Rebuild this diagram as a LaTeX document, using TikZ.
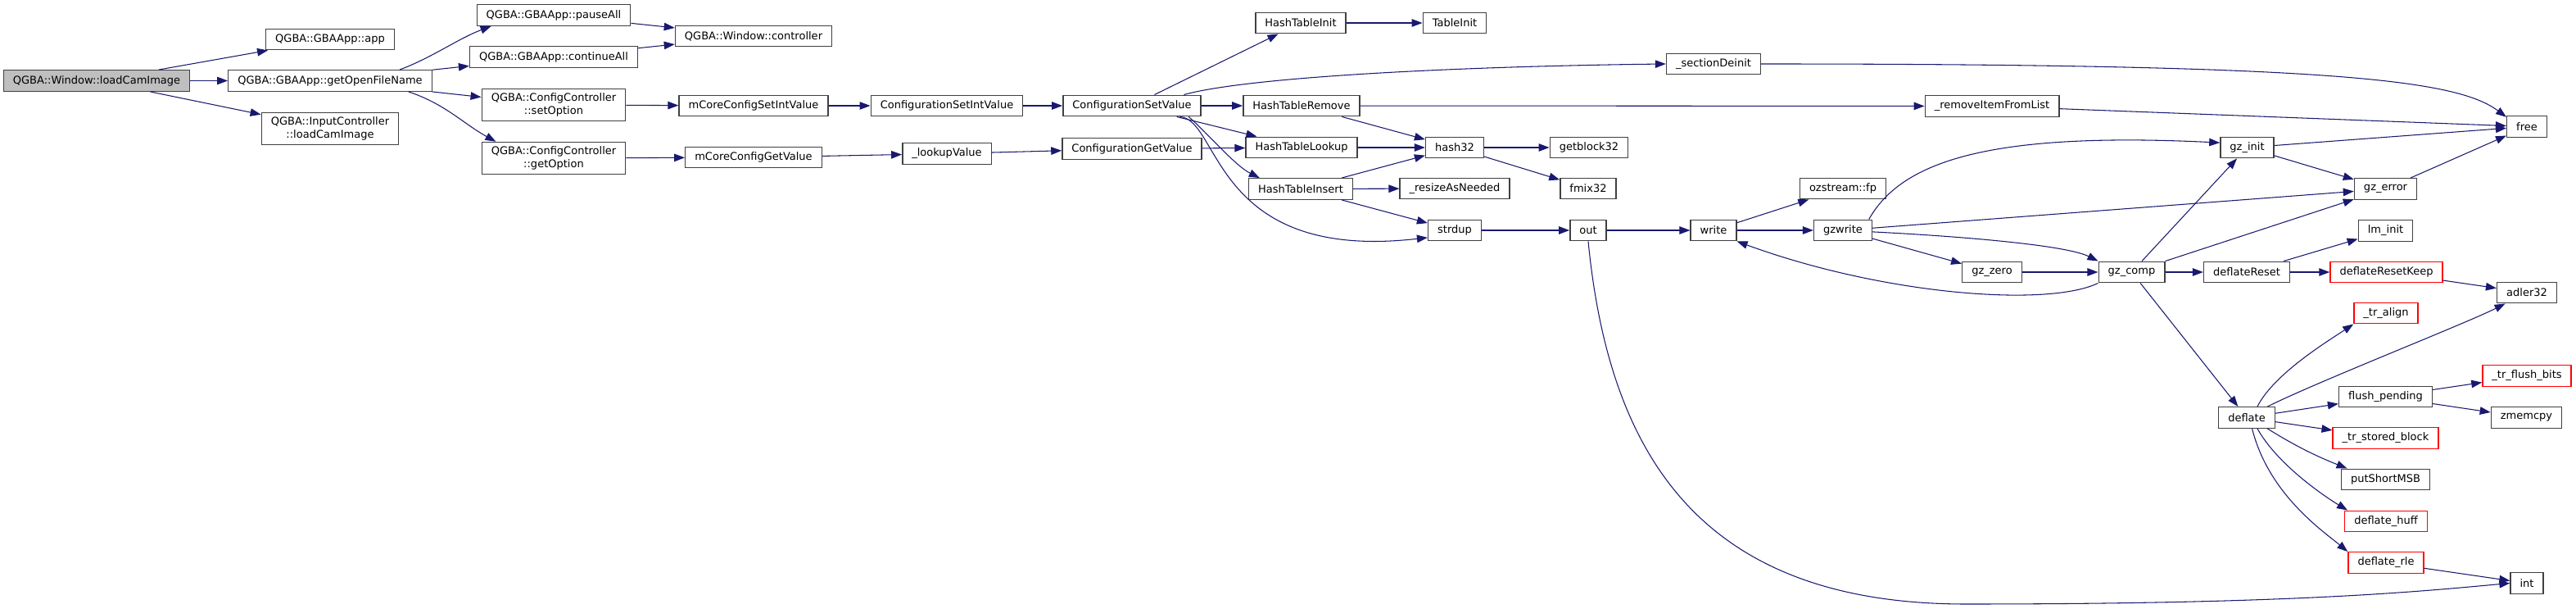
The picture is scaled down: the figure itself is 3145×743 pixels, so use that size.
\documentclass[tikz,border=0pt]{standalone}
\usepackage{fontspec}
\setmainfont{DejaVu Sans}
\usetikzlibrary{arrows.meta}

\definecolor{midnightblue}{RGB}{25,25,112}
\newcommand{\callfont}{\fontsize{3.7pt}{4.4pt}\selectfont}

\tikzset{
  fn/.style={draw=black!75, line width=0.4pt, fill=white, inner xsep=0.115cm,
    inner ysep=0.055cm, minimum height=0.255cm, align=center, font=\callfont},
  fnroot/.style={fn, fill=black!25},
  fntrunc/.style={fn, draw=red},
  call/.style={draw=midnightblue, line width=0.3pt,
    -{Triangle[length=1.3mm, width=0.95mm]}},
}

\begin{document}
\begin{tikzpicture}[x=0.01cm, y=-0.01cm]
    \useasboundingbox (0,0) rectangle (3145,743);

    % functions
    \node[fnroot] (loadcam) at (118,98.5) {QGBA::Window::loadCamImage};
    \node[fn] (app) at (403,48) {QGBA::GBAApp::app};
    \node[fn] (getopen) at (403,98.5) {QGBA::GBAApp::getOpenFileName};
    \node[fn] (inputcam) at (403,157) {QGBA::InputController\\::loadCamImage};
    \node[fn] (pauseall) at (676,18.5) {QGBA::GBAApp::pauseAll};
    \node[fn] (continueall) at (676,69.5) {QGBA::GBAApp::continueAll};
    \node[fn] (setoption) at (676,128) {QGBA::ConfigController\\::setOption};
    \node[fn] (getoption) at (676,193) {QGBA::ConfigController\\::getOption};
    \node[fn] (controller) at (920,44) {QGBA::Window::controller};
    \node[fn] (setint) at (920,129) {mCoreConfigSetIntValue};
    \node[fn] (getvalue) at (920,192) {mCoreConfigGetValue};
    \node[fn] (cfgsetint) at (1156,129) {ConfigurationSetIntValue};
    \node[fn] (lookupvalue) at (1156,187.5) {\_lookupValue};
    \node[fn] (cfgset) at (1382,129) {ConfigurationSetValue};
    \node[fn] (cfgget) at (1382,181.5) {ConfigurationGetValue};
    \node[fn] (htinit) at (1588,28) {HashTableInit};
    \node[fn] (htremove) at (1589,129) {HashTableRemove};
    \node[fn] (htlookup) at (1589,180) {HashTableLookup};
    \node[fn] (htinsert) at (1588,230.5) {HashTableInsert};
    \node[fn] (tableinit) at (1776,28) {TableInit};
    \node[fn] (hash32) at (1776,180) {hash32};
    \node[fn] (resize) at (1776,230) {\_resizeAsNeeded};
    \node[fn] (strdup) at (1776,281) {strdup};
    \node[fn] (getblock) at (1940,180) {getblock32};
    \node[fn] (fmix) at (1939,230) {fmix32};
    \node[fn] (out) at (1939,281) {out};
    \node[fn] (sectiondeinit) at (2092,78) {\_sectionDeinit};
    \node[fn] (write) at (2092,281) {write};
    \node[fn] (ozfp) at (2250,230) {ozstream::fp};
    \node[fn] (gzwrite) at (2250,281) {gzwrite};
    \node[fn] (removeitem) at (2432,129.5) {\_removeItemFromList};
    \node[fn] (gzzero) at (2432,332) {gz\_zero};
    \node[fn] (gzcomp) at (2602.5,332) {gz\_comp};
    \node[fn] (gzinit) at (2743.5,180) {gz\_init};
    \node[fn] (deflatereset) at (2743,332) {deflateReset};
    \node[fn] (deflate) at (2743,509.5) {deflate};
    \node[fn] (gzerror) at (2912.5,230.5) {gz\_error};
    \node[fn] (lminit) at (2912.5,281.5) {lm\_init};
    \node[fntrunc] (resetkeep) at (2913.5,332) {deflateResetKeep};
    \node[fntrunc] (tralign) at (2913,382) {\_tr\_align};
    \node[fn] (flushpending) at (2912.5,484) {flush\_pending};
    \node[fntrunc] (trstored) at (2912.5,534.5) {\_tr\_stored\_block};
    \node[fn] (putshort) at (2912.5,585) {putShortMSB};
    \node[fntrunc] (deflatehuff) at (2913,636) {deflate\_huff};
    \node[fntrunc] (deflaterle) at (2913,686.5) {deflate\_rle};
    \node[fn] (free) at (3085,154.5) {free};
    \node[fn] (adler) at (3085,357) {adler32};
    \node[fntrunc] (trflush) at (3085,458.5) {\_tr\_flush\_bits};
    \node[fn] (zmemcpy) at (3084.5,509.5) {zmemcpy};
    \node[fn] (int) at (3085,711.5) {int};

    % calls
    \draw[call] (loadcam) -- (app);
    \draw[call] (loadcam) -- (getopen);
    \draw[call] (loadcam) -- (inputcam);
    \draw[call] (getopen.9) .. controls +(40,-15) and +(-40,15) .. (pauseall.190);
    \draw[call] (getopen) -- (continueall);
    \draw[call] (getopen) -- (setoption);
    \draw[call] (getopen.-8) .. controls +(45,15) and +(-40,-22) .. (getoption.164);
    \draw[call] (pauseall) -- (controller);
    \draw[call] (continueall) -- (controller);
    \draw[call] (setoption) -- (setint);
    \draw[call] (getoption) -- (getvalue);
    \draw[call] (setint) -- (cfgsetint);
    \draw[call] (cfgsetint) -- (cfgset);
    \draw[call] (getvalue) -- (lookupvalue);
    \draw[call] (lookupvalue) -- (cfgget);
    \draw[call] (cfgget) -- (htlookup);
    \draw[call] (cfgset) -- (htinit);
    \draw[call] (cfgset.12) .. controls +(80,-22) and +(-250,3) .. (sectiondeinit.west);
    \draw[call] (cfgset) -- (htremove);
    \draw[call] (cfgset) -- (htlookup);
    \draw[call] (cfgset.-11) .. controls +(25,22) and +(-30,-15) .. (htinsert.165);
    \draw[call] (cfgset.-13) .. controls (1490,145) and (1480,320) .. (strdup.195);
    \draw[call] (htinit) -- (tableinit);
    \draw[call] (htremove) -- (removeitem);
    \draw[call] (htremove) -- (hash32);
    \draw[call] (htlookup) -- (hash32);
    \draw[call] (htinsert) -- (hash32);
    \draw[call] (htinsert) -- (resize);
    \draw[call] (htinsert) -- (strdup);
    \draw[call] (hash32) -- (getblock);
    \draw[call] (hash32) -- (fmix);
    \draw[call] (sectiondeinit.east) .. controls +(700,0) and +(-60,-45) .. (free.155);
    \draw[call] (removeitem) -- (free);
    \draw[call] (strdup) -- (out);
    \draw[call] (out) -- (write);
    \draw[call] (out.south) .. controls (1965,560) and (2080,737) .. (2400,737)
      .. controls (2800,737) and (2950,722) .. (int.west);
    \draw[call] (write) -- (ozfp);
    \draw[call] (write) -- (gzwrite);
    \draw[call] (gzwrite.23) .. controls (2320,200) and (2420,160) .. (gzinit.170);
    \draw[call] (gzwrite) -- (gzerror);
    \draw[call] (gzwrite) -- (gzzero);
    \draw[call] (gzwrite.-3) .. controls +(100,5) and +(-40,-20) .. (gzcomp.north west);
    \draw[call] (gzzero) -- (gzcomp);
    \draw[call] (gzcomp.south west) .. controls (2500,375) and (2300,360) .. (write.south east);
    \draw[call] (gzcomp) -- (gzinit);
    \draw[call] (gzcomp) -- (gzerror);
    \draw[call] (gzcomp) -- (deflatereset);
    \draw[call] (gzcomp) -- (deflate);
    \draw[call] (gzinit) -- (free);
    \draw[call] (gzinit) -- (gzerror);
    \draw[call] (gzerror) -- (free);
    \draw[call] (deflatereset) -- (lminit);
    \draw[call] (deflatereset) -- (resetkeep);
    \draw[call] (resetkeep) -- (adler);
    \draw[call] (deflate.46) .. controls +(20,-40) and +(-30,20) .. (tralign.south west);
    \draw[call] (deflate.28) .. controls +(60,-30) and +(-50,25) .. (adler.207);
    \draw[call] (deflate) -- (flushpending);
    \draw[call] (deflate) -- (trstored);
    \draw[call] (deflate.-28) .. controls +(40,25) and +(-30,-12) .. (putshort.164);
    \draw[call] (deflate.-46) .. controls +(25,45) and +(-25,-15) .. (deflatehuff.164);
    \draw[call] (deflate.-64) .. controls +(20,80) and +(-30,-25) .. (deflaterle.north west);
    \draw[call] (flushpending) -- (trflush);
    \draw[call] (flushpending) -- (zmemcpy);
    \draw[call] (deflaterle) -- (int);
\end{tikzpicture}
\end{document}
